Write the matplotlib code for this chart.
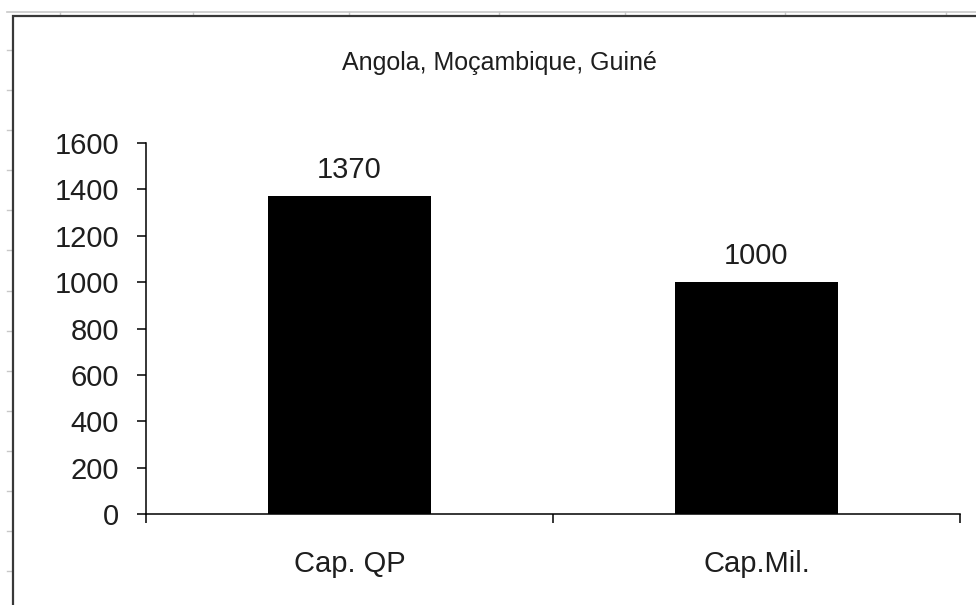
import numpy as np
import matplotlib
matplotlib.use('Agg')
import matplotlib.pyplot as plt
from matplotlib.lines import Line2D

plt.rcParams.update({'font.family': ['Liberation Sans', 'DejaVu Sans'], 'font.size': 21,
                     'text.color': '#1e1e1e', 'xtick.labelcolor': '#1e1e1e', 'ytick.labelcolor': '#1e1e1e'})

categories = ['Cap. QP', 'Cap.Mil.']
values = [1370, 1000]
title = 'Angola, Moçambique, Guiné'
yticks = [0, 200, 400, 600, 800, 1000, 1200, 1400, 1600]

W, H = 976, 605
fig = plt.figure(figsize=(W/100, H/100), dpi=100, facecolor='white')

# spreadsheet remnants around the chart object (pixel coords, y from top)
col_x = [60, 193, 349, 499, 625, 785, 946]
row_y = [50 + 40.1*k for k in range(14)]
grey = '#c8c8c8'
fig.add_artist(Line2D([7/W, 1], [1-11.5/H]*2, transform=fig.transFigure, color=grey, lw=1.2))
for cx in col_x:
    fig.add_artist(Line2D([cx/W]*2, [1-11.5/H, 1-15/H], transform=fig.transFigure, color=grey, lw=1))
for ry in row_y:
    fig.add_artist(Line2D([7/W, 12/W], [1-ry/H]*2, transform=fig.transFigure, color=grey, lw=1))
# chart frame
fig.add_artist(Line2D([12.8/W, 12.8/W, 1], [0, 1-16/H, 1-16/H], transform=fig.transFigure,
                      color='#383838', lw=1.6, solid_joinstyle='miter'))

ax = fig.add_axes([146/W, 1-514/H, 814/W, 371/H])
x = np.arange(len(categories))
ax.bar(x, values, width=0.4, color='black')
for xi, v in zip(x, values):
    ax.annotate(str(v), (xi, v), xytext=(0, 13), textcoords='offset points',
                ha='center', va='baseline', fontsize=21)

ax.set_xlim(-0.5, len(categories)-0.5)
ax.set_ylim(0, 1600)
ax.set_yticks(yticks)
ax.set_xticks(np.arange(len(categories)+1)-0.5)
ax.set_xticklabels([])
ax.set_xticks(x, minor=True)
ax.set_xticklabels(categories, minor=True)
ax.tick_params(axis='x', which='minor', length=0, pad=26)
ax.tick_params(axis='x', which='major', length=6.5, width=1.1, direction='out')
ax.tick_params(axis='y', length=6.5, width=1.1, direction='out', pad=13)
for s in ['top', 'right']:
    ax.spines[s].set_visible(False)
for s in ['left', 'bottom']:
    ax.spines[s].set_linewidth(1.1)

fig.text(499/W, 1-70/H, title, ha='center', va='baseline', fontsize=18)

plt.savefig('out.png', dpi=100)
